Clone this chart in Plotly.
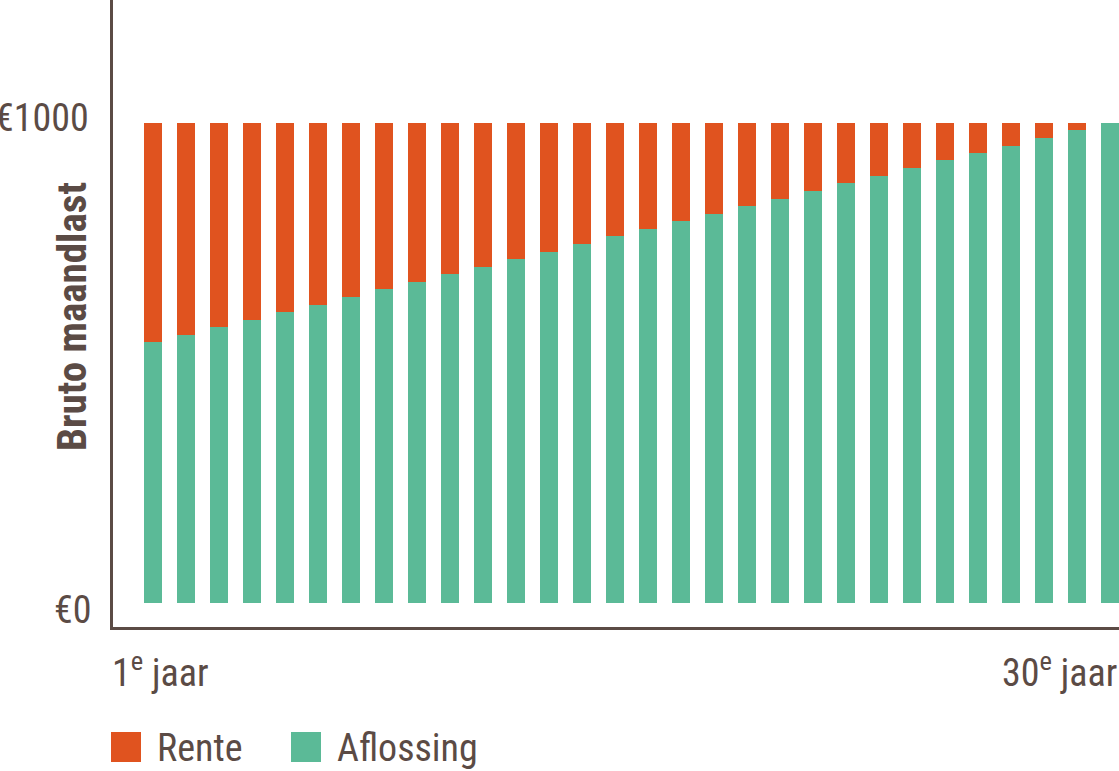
import plotly.graph_objects as go

years = list(range(1, 31))
aflossing = [543, 558, 574, 590, 606, 621, 637, 654, 669, 685,
             700, 717, 732, 748, 764, 779, 795, 811, 827, 842,
             858, 874, 890, 906, 922, 937, 953, 969, 985, 1000]
total = 1000
rente = [total - a for a in aflossing]

y_tickvals = [0, 1000]
y_ticktext = ["€0", "€1000"]
x_first_label = "1<sup>e</sup> jaar"
x_last_label = "30<sup>e</sup> jaar"
y_title = "Bruto maandlast"
legend_names = ["Rente", "Aflossing"]

ORANGE = "#E0531F"
GREEN = "#5BBA97"
TEXT = "#5B4B45"
FONT = "Roboto Condensed, Liberation Sans Narrow, DejaVu Sans Condensed, sans-serif"

fig = go.Figure()
fig.add_trace(go.Bar(x=years, y=aflossing, name=legend_names[1],
                     marker=dict(color=GREEN, line=dict(width=0))))
fig.add_trace(go.Bar(x=years, y=rente, name=legend_names[0],
                     marker=dict(color=ORANGE, line=dict(width=0))))

fig.update_layout(
    width=1119, height=771,
    margin=dict(l=113, r=0, t=0, b=144, autoexpand=False),
    barmode="stack", bargap=0.4545,
    showlegend=False,
    plot_bgcolor="white", paper_bgcolor="white",
    font=dict(family=FONT, size=38, color=TEXT),
)
fig.update_xaxes(range=[1 - 1.212, 30.273], showline=True, linecolor=TEXT,
                 linewidth=2.5, showgrid=False, zeroline=False,
                 showticklabels=False, ticks="", automargin=False)
fig.update_yaxes(range=[-50, 1256.25], showline=True, linecolor=TEXT,
                 linewidth=2.5, showgrid=False, zeroline=False,
                 tickvals=y_tickvals, showticklabels=False, ticks="",
                 automargin=False)

H = 627.0
W = 1006.0
def py(p):
    return (H - p) / H
def px(p):
    return (p - 113) / W

ann = []
# y tick labels (right edge in pixels, vertical pixel shift from the value)
tick_right = [94, 91]
tick_shift = [-7, 5]
for v, t, r, s in zip(y_tickvals, y_ticktext, tick_right, tick_shift):
    ann.append(dict(text=t, xref="paper", yref="y", x=px(r), y=v, yshift=s,
                    showarrow=False, xanchor="right", yanchor="middle",
                    font=dict(family=FONT, size=38, color=TEXT)))
ann.append(dict(text=f"<b>{y_title}</b>", textangle=-90, xref="paper", yref="paper",
                x=px(72), y=py(317), showarrow=False, xanchor="center", yanchor="middle",
                font=dict(family=FONT, size=41, color=TEXT)))
ann.append(dict(text=x_first_label, xref="paper", yref="paper", x=px(110), y=py(670),
                showarrow=False, xanchor="left", yanchor="middle",
                font=dict(family=FONT, size=38, color=TEXT)))
ann.append(dict(text=x_last_label, xref="paper", yref="paper", x=px(1119), y=py(670),
                showarrow=False, xanchor="right", yanchor="middle",
                font=dict(family=FONT, size=38, color=TEXT)))
ann.append(dict(text=legend_names[0], xref="paper", yref="paper", x=px(155), y=py(748),
                showarrow=False, xanchor="left", yanchor="middle",
                font=dict(family=FONT, size=38, color=TEXT)))
ann.append(dict(text=legend_names[1], xref="paper", yref="paper", x=px(335), y=py(748),
                showarrow=False, xanchor="left", yanchor="middle",
                font=dict(family=FONT, size=38, color=TEXT)))
fig.update_layout(annotations=ann)

shapes = [
    dict(type="rect", xref="paper", yref="paper", x0=px(111), x1=px(141),
         y0=py(762), y1=py(732), fillcolor=ORANGE, line=dict(width=0)),
    dict(type="rect", xref="paper", yref="paper", x0=px(291), x1=px(321),
         y0=py(762), y1=py(732), fillcolor=GREEN, line=dict(width=0)),
]
fig.update_layout(shapes=shapes)

fig.write_html("out.html", config={"displayModeBar": False},
               post_script="document.body.style.margin='0';document.body.style.overflow='hidden';")
